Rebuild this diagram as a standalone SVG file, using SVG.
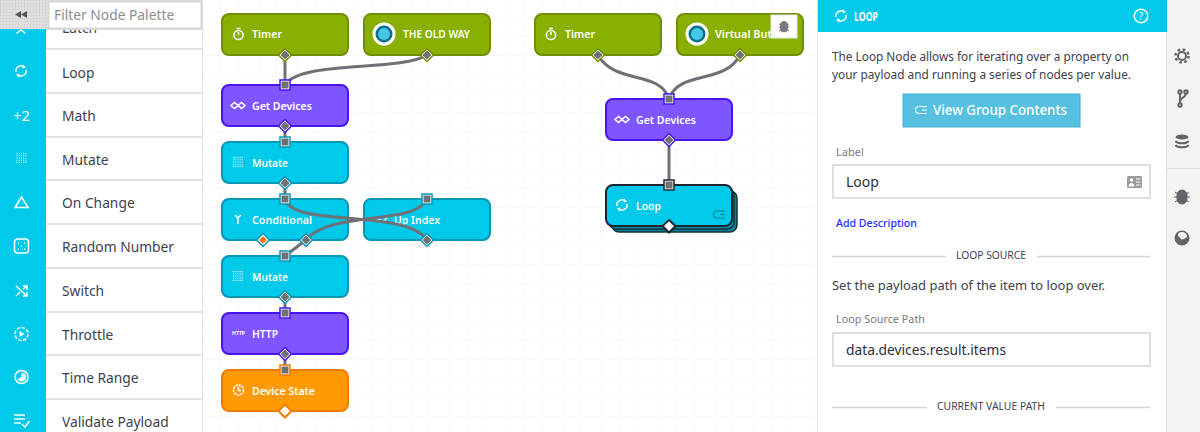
<svg xmlns="http://www.w3.org/2000/svg" width="1200" height="432" viewBox="0 0 1200 432">
<style>
text{font-family:"Noto Sans","Open Sans","Liberation Sans",sans-serif}
.pal{font-size:13.8px;fill:#3d4150}
.nl{font-size:11.5px;fill:#fff;font-weight:600}
.n{stroke-width:2}
.g{fill:#89b000;stroke:#6f8f00}
.p{fill:#7f55ff;stroke:#4a14f0}
.c{fill:#00c9ea;stroke:#0796b4}
.o{fill:#ff9b00;stroke:#f07a00}
.ic{fill:none;stroke:#fff;stroke-width:1.5}
.wire{fill:none;stroke:#6f7176;stroke-width:3}
.sep{stroke:#e3e4e6;stroke-width:2}
.side{fill:none;stroke:#626469;stroke-width:2}
.lab{font-size:11px;fill:#777a80}
.body{font-size:12px;fill:#3d4150}
.hd{font-size:10.4px;fill:#3d4150}
.in{fill:#fff;stroke:#d4d5d7;stroke-width:1.5}
.rule{stroke:#d4d5d7;stroke-width:1.5}
</style>
<defs>
<pattern id="grid" width="19" height="19" patternUnits="userSpaceOnUse" x="11" y="17">
<path d="M0 0H19M0 0V19" fill="none" stroke="#f2f3f3" stroke-width="1"/>
</pattern>
<pattern id="hatch" width="3" height="3" patternUnits="userSpaceOnUse">
<rect width="3" height="3" fill="#dedede"/><rect width="1" height="1" fill="#c9c9c9"/>
</pattern>
<g id="dia"><path d="M0 -6.500L6.500 0L0 6.500L-6.500 0Z" fill="#fff" stroke="currentColor" stroke-width="1.500"/><path d="M0 -4.500L4.500 0L0 4.500L-4.500 0Z" fill="#6f7176"/></g>
<g id="sq"><rect x="-5" y="-5" width="10" height="10" fill="#fff" stroke="currentColor" stroke-width="1.500"/><rect x="-3.500" y="-3.500" width="7" height="7" fill="#6f7176"/></g>
<g id="timer"><circle cx="0" cy="1" r="4.600" class="ic"/><path d="M-2 -5.500H2M0 1V-2" class="ic"/></g>
<g id="loop"><path d="M-5 1A5 5 0 0 1 3.500 -3.500M5 -1A5 5 0 0 1 -3.500 3.500" class="ic"/><path d="M2 -6.500L5 -3.500L1.500 -2.500ZM-2 6.500L-5 3.500L-1.500 2.500Z" fill="#fff"/></g>
<g id="gd"><path d="M-7 0L-3.500 -3L0 0L-3.500 3ZM0 0L3.500 -3L7 0L3.500 3Z" class="ic"/></g>
<g id="dots"><path d="M-5 -4.400H5M-5 -2.200H5M-5 0H5M-5 2.200H5M-5 4.400H5" stroke="#fff" stroke-width="1.100" stroke-dasharray="1.100 1.100" fill="none" opacity=".85"/></g>
<g id="vb"><circle r="11.500" fill="#fff"/><circle r="8.500" fill="#0a6f8c"/><circle r="6" fill="#45c6e4"/></g>
<g id="grp"><path d="M4 -3.500H0A3.500 3.500 0 0 0 0 3.500H4M2 -3.500H8M3 0H8M2 3.500H8" fill="none" stroke-width="1.100"/></g>
</defs>

<rect width="1200" height="432" fill="#fff"/>
<rect x="203" width="615" height="432" fill="url(#grid)"/>

<g id="palette">
<rect x="0" y="29" width="46" height="403" fill="#00c9ea"/>
<rect x="46" y="29" width="157" height="403" fill="#fff"/>
<line x1="202.500" y1="29" x2="202.500" y2="432" stroke="#e3e4e6"/>
<text class="pal" x="62" y="33">Latch</text>
<line class="sep" x1="46" y1="49" x2="202" y2="49"/>
<line class="sep" x1="46" y1="93" x2="202" y2="93"/>
<line class="sep" x1="46" y1="137" x2="202" y2="137"/>
<line class="sep" x1="46" y1="180" x2="202" y2="180"/>
<line class="sep" x1="46" y1="224" x2="202" y2="224"/>
<line class="sep" x1="46" y1="268" x2="202" y2="268"/>
<line class="sep" x1="46" y1="312" x2="202" y2="312"/>
<line class="sep" x1="46" y1="355" x2="202" y2="355"/>
<line class="sep" x1="46" y1="399" x2="202" y2="399"/>
<rect x="0" y="0" width="46" height="29" fill="url(#hatch)"/>
<rect x="46" y="0" width="157" height="30" fill="#dedede"/>
<rect x="48.500" y="1.500" width="153" height="27" fill="#fff" stroke="#d6d6d6" stroke-width="2"/>
<path d="M21 11V18L15 14.500ZM27 11V18L21 14.500Z" fill="#555"/>
<text x="54" y="20" font-size="13.800" fill="#8a8c91">Filter Node Palette</text>
<path d="M17 33L21 30L25 33" class="ic" stroke-linecap="round"/>

<use href="#loop" x="21" y="71"/>
<text x="62" y="78" class="pal">Loop</text>
<text x="21.500" y="121" font-size="14.500" fill="#fff" text-anchor="middle">+2</text>
<text x="62" y="121" class="pal">Math</text>
<use href="#dots" x="21.500" y="158"/>
<text x="62" y="165" class="pal">Mutate</text>
<path d="M15 207.500L21.500 197L28 207.500Z" class="ic"/>
<text x="62" y="208" class="pal">On Change</text>
<rect x="14.500" y="239" width="14" height="14" rx="3" class="ic"/>
<path d="M18 243h1M24 243h1M21 246h1M18 249h1M24 249h1" stroke="#fff" stroke-width="1.500"/>
<text x="62" y="252" class="pal">Random Number</text>
<path d="M16 286L27 296M16 296L20 292M23 289L27 286M23 286H27V290M23 296H27V292" class="ic"/>
<text x="62" y="296" class="pal">Switch</text>
<circle cx="21.500" cy="334" r="6.500" class="ic" stroke-dasharray="3.500 1.500"/>
<path d="M19.500 331L24.500 334L19.500 337Z" fill="#fff"/>
<text x="62" y="340" class="pal">Throttle</text>
<circle cx="21.500" cy="377" r="6.500" class="ic"/>
<path d="M21.500 372.500A4.500 4.500 0 1 1 17.500 379L21.500 377Z" fill="#fff"/>
<text x="62" y="383" class="pal">Time Range</text>
<path d="M14 415H25M14 419H25M14 423H21M22 424L25 427L29.500 421" class="ic"/>
<text x="62" y="427" class="pal">Validate Payload</text>
</g>

<g id="node-timer-1"><rect class="n g" x="222" y="14" width="126" height="41" rx="7"/><use href="#timer" x="238.500" y="34"/><text class="nl" x="252" y="38" textLength="30" lengthAdjust="spacingAndGlyphs">Timer</text></g>
<g id="node-oldway"><rect class="n g" x="364" y="14" width="126" height="41" rx="7"/><use href="#vb" x="384" y="34"/><text class="nl" x="403" y="38" textLength="67" lengthAdjust="spacingAndGlyphs">THE OLD WAY</text></g>
<g id="node-getdevices-1"><rect class="n p" x="222" y="85" width="126" height="41" rx="7"/><use href="#gd" x="238" y="105.500"/><text class="nl" x="252" y="110" textLength="60" lengthAdjust="spacingAndGlyphs">Get Devices</text></g>
<g id="node-mutate-1"><rect class="n c" x="222" y="142" width="126" height="41" rx="7"/><use href="#dots" x="238" y="162"/><text class="nl" x="252" y="167" textLength="36" lengthAdjust="spacingAndGlyphs">Mutate</text></g>
<g id="node-conditional"><rect class="n c" x="222" y="199" width="126" height="41" rx="7"/><path d="M235 215L238 218V224M241 215L238 218" class="ic"/><text class="nl" x="252" y="224" textLength="60" lengthAdjust="spacingAndGlyphs">Conditional</text></g>
<g id="node-upindex"><rect class="n c" x="364" y="199" width="126" height="41" rx="7"/><path d="M376 219H381M378.500 216.500V221.500M382 220L384 222L387 217" class="ic"/><text class="nl" x="394" y="224" textLength="46" lengthAdjust="spacingAndGlyphs">Up Index</text></g>
<g id="node-mutate-2"><rect class="n c" x="222" y="256" width="126" height="41" rx="7"/><use href="#dots" x="238" y="276"/><text class="nl" x="252" y="281" textLength="36" lengthAdjust="spacingAndGlyphs">Mutate</text></g>
<g id="node-http"><rect class="n p" x="222" y="313" width="126" height="41" rx="7"/><text x="238.500" y="335" font-size="5" font-weight="700" fill="#fff" text-anchor="middle">HTTP</text><text class="nl" x="252" y="338" textLength="26" lengthAdjust="spacingAndGlyphs">HTTP</text></g>
<g id="node-devicestate"><rect class="n o" x="222" y="370" width="126" height="41" rx="7"/><circle cx="238.500" cy="390" r="5" class="ic" stroke-dasharray="2.500 .8"/><path d="M238.500 387V390.500H241" class="ic" stroke-width="1"/><text class="nl" x="252" y="395" textLength="63" lengthAdjust="spacingAndGlyphs">Device State</text></g>

<g id="node-timer-2"><rect class="n g" x="535" y="14" width="126" height="41" rx="7"/><use href="#timer" x="551" y="34"/><text class="nl" x="565" y="38" textLength="30" lengthAdjust="spacingAndGlyphs">Timer</text></g>
<g id="node-virtual"><rect class="n g" x="677" y="14" width="126" height="41" rx="7"/><use href="#vb" x="697" y="34"/><text class="nl" x="715" y="38" textLength="75" lengthAdjust="spacingAndGlyphs">Virtual Button</text><rect x="771" y="15" width="26" height="23" fill="#fff" stroke="#e6e6e6"/><path d="M784 21.500a3.500 3.500 0 0 1 3.500 3.500v3.500a3.500 3.500 0 0 1-7 0v-3.500a3.500 3.500 0 0 1 3.500-3.500ZM779 24l2 1M789 24l-2 1M778.500 27h2.500M789.500 27h-2.500M779 31l2-1M789 31l-2-1" fill="#77797d" stroke="#77797d"/></g>
<g id="node-getdevices-2"><rect class="n p" x="606" y="99" width="126" height="41" rx="7"/><use href="#gd" x="622" y="119.500"/><text class="nl" x="636" y="124" textLength="60" lengthAdjust="spacingAndGlyphs">Get Devices</text></g>
<g id="node-loop">
<rect x="612" y="191" width="125" height="41" rx="7" fill="#0a7d96" stroke="#12343f" stroke-width="1.500"/>
<rect x="609" y="188" width="125" height="41" rx="7" fill="#0a90ad" stroke="#12343f" stroke-width="1.500"/>
<rect x="606" y="185" width="126" height="41" rx="7" fill="#00c9ea" stroke="#1b2530" stroke-width="2"/>
<use href="#loop" x="622" y="205"/><text class="nl" x="636" y="210" textLength="25" lengthAdjust="spacingAndGlyphs">Loop</text>
<use href="#grp" x="717" y="214.500" stroke="#0a7d96"/>
</g>

<g id="connectors">
<path class="wire" d="M285 55V85"/>
<path class="wire" d="M427 55C400 72 300 60 285 85"/>
<path class="wire" d="M285 126V142"/>
<path class="wire" d="M285 183V199"/>
<path class="wire" d="M285 199C292 228 405 208 427 240"/>
<path class="wire" d="M427 199C415 226 330 210 306 240"/>
<path class="wire" d="M306 240L285 256"/>
<path class="wire" d="M285 297V313"/>
<path class="wire" d="M285 354V370"/>
<path class="wire" d="M598 55C615 85 660 70 669 99"/>
<path class="wire" d="M740 55C725 85 678 70 669 99"/>
<path class="wire" d="M669 140V185" stroke-width="2.500"/>
</g>

<g id="ports">
<use href="#dia" x="285" y="55" color="#6f8f00"/>
<use href="#dia" x="427" y="55" color="#6f8f00"/>
<use href="#sq" x="285" y="85" color="#4a14f0"/>
<use href="#dia" x="285" y="126" color="#4a14f0"/>
<use href="#sq" x="285" y="142" color="#0796b4"/>
<use href="#dia" x="285" y="183" color="#0796b4"/>
<use href="#sq" x="285" y="199" color="#0796b4"/>
<path d="M263 233.500L269.500 240L263 246.500L256.500 240Z" fill="#fff" stroke="#0796b4" stroke-width="1.500"/><path d="M263 236L267 240L263 244L259 240Z" fill="#ff7a1a"/>
<use href="#dia" x="306" y="240" color="#0796b4"/>
<use href="#sq" x="427" y="199" color="#0796b4"/>
<use href="#dia" x="427" y="240" color="#0796b4"/>
<use href="#sq" x="285" y="256" color="#0796b4"/>
<use href="#dia" x="285" y="297" color="#0796b4"/>
<use href="#sq" x="285" y="313" color="#4a14f0"/>
<use href="#dia" x="285" y="354" color="#4a14f0"/>
<use href="#sq" x="285" y="370" color="#f07a00"/>
<path d="M285 404.500L291.500 411L285 417.500L278.500 411Z" fill="#fff" stroke="#f07a00" stroke-width="2"/>
<use href="#dia" x="598" y="55" color="#6f8f00"/>
<use href="#dia" x="740" y="55" color="#6f8f00"/>
<use href="#sq" x="669" y="99" color="#4a14f0"/>
<use href="#dia" x="669" y="140" color="#4a14f0"/>
<use href="#sq" x="669" y="185" color="#1b2530"/>
<path d="M669 220L675.500 226L669 232.500L662.500 226Z" fill="#fff" stroke="#1b2530" stroke-width="2"/>
</g>

<g id="right-panel">
<rect x="1167" y="0" width="33" height="432" fill="#f3f3f2"/>
<rect x="818" y="0" width="349" height="432" fill="#fff"/>
<line x1="817.500" y1="0" x2="817.500" y2="432" stroke="#e0e1e2"/>
<line x1="1166.500" y1="0" x2="1166.500" y2="432" stroke="#dcdddd"/>
<rect x="818" y="0" width="349" height="32" fill="#00c9ea"/>
<use href="#loop" x="841" y="16"/>
<text x="854" y="21" font-size="12" font-weight="700" fill="#fff" textLength="24" lengthAdjust="spacingAndGlyphs">LOOP</text>
<circle cx="1141" cy="16" r="6.800" class="ic"/>
<text x="1141" y="20" font-size="10" fill="#fff" text-anchor="middle">?</text>
<text class="body" x="832" y="61" textLength="297" lengthAdjust="spacingAndGlyphs">The Loop Node allows for iterating over a property on</text>
<text class="body" x="832" y="79" textLength="299" lengthAdjust="spacingAndGlyphs">your payload and running a series of nodes per value.</text>
<rect x="903" y="94" width="177" height="33" fill="#56c0e0" stroke="#3fb4d8"/>
<use href="#grp" x="919" y="110" stroke="#fff"/>
<text x="933" y="115" font-size="14.500" font-weight="500" fill="#fff" textLength="134" lengthAdjust="spacingAndGlyphs">View Group Contents</text>
<text class="lab" x="836" y="156">Label</text>
<rect class="in" x="833" y="165" width="317" height="33"/>
<text x="846" y="187" font-size="14" fill="#2d3038">Loop</text>
<rect x="1127" y="176" width="15" height="12" rx="1.500" fill="#9a9a9c"/>
<circle cx="1131.500" cy="180" r="1.800" fill="#fff"/><path d="M1129 186a2.500 2.500 0 0 1 5 0ZM1136 179H1140.500M1136 182H1140.500M1136 185H1140.500" fill="#fff" stroke="#fff"/>
<text x="836" y="227" font-size="11.500" font-weight="500" fill="#1a2dff" textLength="81" lengthAdjust="spacingAndGlyphs">Add Description</text>
<line class="rule" x1="832" y1="256.500" x2="946" y2="256.500"/>
<line class="rule" x1="1037" y1="256.500" x2="1150" y2="256.500"/>
<text class="hd" x="956" y="259" textLength="70" lengthAdjust="spacingAndGlyphs">LOOP SOURCE</text>
<text class="body" x="832" y="290" textLength="273" lengthAdjust="spacingAndGlyphs">Set the payload path of the item to loop over.</text>
<text class="lab" x="836" y="323" textLength="89" lengthAdjust="spacingAndGlyphs">Loop Source Path</text>
<rect class="in" x="833" y="333" width="317" height="33"/>
<text x="846" y="355" font-size="14" fill="#2d3038" textLength="160" lengthAdjust="spacingAndGlyphs">data.devices.result.items</text>
<line class="rule" x1="832" y1="407.500" x2="927" y2="407.500"/>
<line class="rule" x1="1056" y1="407.500" x2="1150" y2="407.500"/>
<text class="hd" x="937" y="410" textLength="108" lengthAdjust="spacingAndGlyphs">CURRENT VALUE PATH</text>
</g>

<g id="side-icons">
<circle cx="1182" cy="56" r="4" class="side" stroke-width="3"/>
<circle cx="1182" cy="56" r="6.500" fill="none" stroke="#626469" stroke-width="2.500" stroke-dasharray="2.500 2.600"/>
<path d="M1180 93V104M1186 93C1186 98 1180 97 1180 102" class="side" stroke-width="1.500"/>
<circle cx="1180" cy="92" r="1.700" class="side" stroke-width="1.200"/><circle cx="1186" cy="92" r="1.700" class="side" stroke-width="1.200"/><circle cx="1180" cy="105" r="1.700" class="side" stroke-width="1.200"/>
<ellipse cx="1182" cy="137" rx="6.500" ry="2.500" fill="#626469"/>
<path d="M1175.500 141C1177 144 1187 144 1188.500 141M1175.500 145C1177 148 1187 148 1188.500 145" class="side"/>
<line x1="1167" y1="168.500" x2="1200" y2="168.500" stroke="#dcdddd"/>
<path d="M1182 190a5 5 0 0 1 5 5v4a5 5 0 0 1-10 0v-4a5 5 0 0 1 5-5ZM1175 192l3 2M1189 192l-3 2M1174 197h3M1190 197h-3M1175 202l3-2M1189 202l-3-2" fill="#626469" stroke="#626469"/>
<circle cx="1182" cy="238" r="7.500" fill="#626469"/>
<path d="M1181 232C1185 232 1187 234 1187 236C1187 239 1183 238 1182 240C1181 238 1178 237 1178 235C1178 233 1180 232 1181 232Z" fill="#f3f3f2"/>
</g>
</svg>
